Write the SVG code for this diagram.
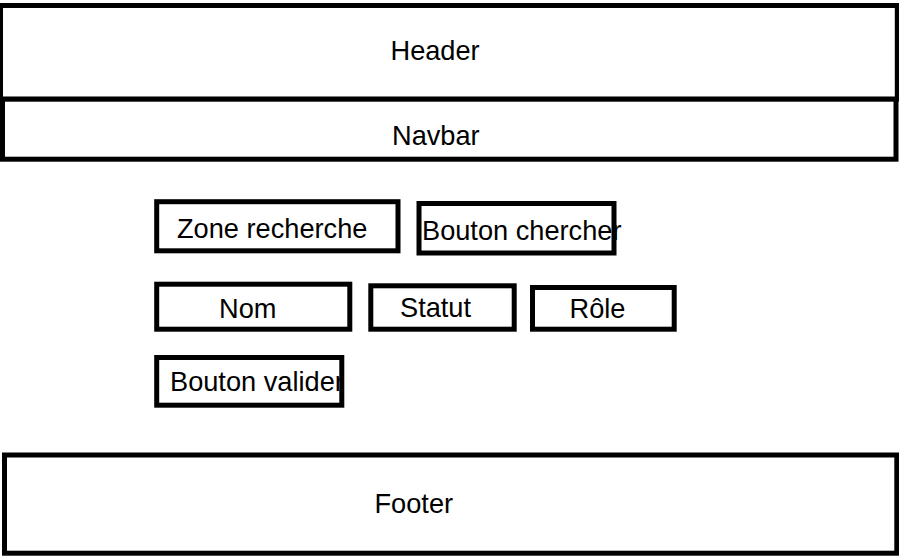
<svg xmlns="http://www.w3.org/2000/svg" width="899" height="556" viewBox="0 0 899 556">
<style>
.box{fill:#fff;stroke:#000;stroke-width:5}
.lbl{font-family:"Liberation Sans",Arial,sans-serif;font-size:27.2px;fill:#000}
</style>
<rect x="0" y="0" width="899" height="556" fill="#fff"/>
<g id="header"><rect class="box" x="0.5" y="5.5" width="896.8" height="93.7"/><text class="lbl" x="390.5" y="60">Header</text></g>
<g id="navbar"><rect class="box" x="2.5" y="99.2" width="893.5" height="60"/><text class="lbl" x="392" y="145">Navbar</text></g>
<g id="zone-recherche"><rect class="box" x="156.7" y="201.7" width="241.3" height="49.1"/><text class="lbl" x="177" y="238.3">Zone recherche</text></g>
<g id="bouton-chercher"><rect class="box" x="419" y="203.5" width="195" height="49.5"/><text class="lbl" x="422" y="240">Bouton chercher</text></g>
<g id="nom"><rect class="box" x="156.7" y="284.2" width="193.1" height="45"/><text class="lbl" x="219" y="318.3">Nom</text></g>
<g id="statut"><rect class="box" x="370.8" y="285.8" width="143.4" height="43.4"/><text class="lbl" x="400" y="316.7">Statut</text></g>
<g id="role"><rect class="box" x="532.5" y="287.5" width="141.7" height="41.7"/><text class="lbl" x="569.5" y="318.3">Rôle</text></g>
<g id="bouton-valider"><rect class="box" x="156.7" y="357.5" width="185.1" height="47.7"/><text class="lbl" x="170" y="391">Bouton valider</text></g>
<g id="footer"><rect class="box" x="4.5" y="455" width="892.3" height="98.2"/><text class="lbl" x="374.5" y="513.3">Footer</text></g>
<g id="connectors"></g>
</svg>
